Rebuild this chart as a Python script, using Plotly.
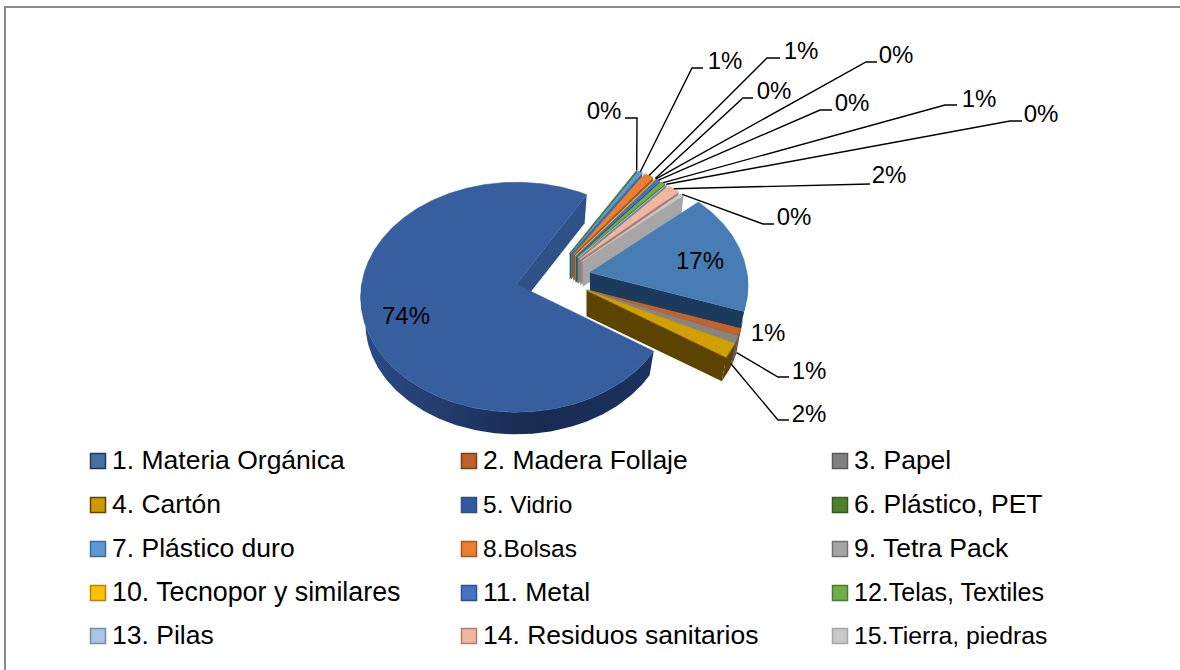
import numpy as np
import plotly.graph_objects as go

categories = ["1. Materia Orgánica", "2. Madera Follaje", "3. Papel", "4. Cartón", "5. Vidrio",
              "6. Plástico, PET", "7. Plástico duro", "8.Bolsas", "9. Tetra Pack",
              "10. Tecnopor y similares", "11. Metal", "12.Telas, Textiles", "13. Pilas",
              "14. Residuos sanitarios", "15.Tierra, piedras"]
values = [17.0, 1.0, 1.0, 2.0, 74.0, 0.15, 0.55, 1.15, 0.1, 0.05, 0.45, 0.55, 0.1, 1.5, 0.4]
top_colors = ["#477DB4", "#C4622B", "#858585", "#D29F00", "#375F9F", "#4E8030", "#5B9BD5", "#ED7D31",
              "#A5A5A5", "#FFC000", "#4472C4", "#70AD47", "#A9C4E4", "#F4B5A0", "#C9C9C9"]
swatch_colors = ["#47709E", "#C0612A", "#808080", "#CC9900", "#305A9A", "#4E8030", "#5B9BD5", "#ED7D31",
                 "#A5A5A5", "#FFC000", "#4472C4", "#70AD47", "#A9C4E4", "#F4B5A0", "#C9C9C9"]
wall_colors = ["#1B3A5C", "#7A3D18", "#5A5A5A", "#5C4300", "#2E5288", "#35591F", "#3D6D97", "#A65720",
               "#707070", "#B38600", "#2F5089", "#4E7A31", "#7689A0", "#AB7F70", "#A6A6A6"]
explode_group = [0, 1, 1, 1, 2, 3, 3, 3, 3, 3, 3, 3, 3, 3, 3]

# Stage geometry of the perspective pie
CX, CY, RX, RY, PERSP, DEPTH, BOTTOM, EXPLODE = 553, 278, 157, 113.5, 0.113, 26, 0.97, 0.24
FIRST_ANGLE = 48
group_fan = {0: 0.0, 1: 0.12, 2: 0.0, 3: 1.5}
group_rx = {0: 1.0, 1: 1.0, 2: 0.985, 3: 0.93}
group_ry = {0: 1.0, 1: 1.0, 2: 1.0, 3: 0.93}

# Leader and label layout, indexed by slice: (elbow x, elbow y, stub end x)
leaders = {3: (778, 420, 789), 2: (778, 377, 789), 5: (637, 118, 625), 6: (692, 68, 703),
           7: (767, 58, 780), 8: (743, 98, 753), 9: (866, 62, 877), 10: (820, 110, 832),
           11: (945, 105, 957), 12: (1010, 121, 1022), 13: (860, 184, 870), 14: (763, 224, 774)}
label_pos = {0: (699, 262), 4: (405, 317), 1: (767, 334), 2: (808, 372), 3: (808, 415),
             5: (603, 112), 6: (724, 62), 7: (800, 52), 8: (773, 92), 9: (895, 56),
             10: (851, 104), 11: (978, 100), 12: (1040, 115), 13: (888, 176), 14: (793, 218)}

total = sum(values)
cum = np.cumsum([0] + values) / total * 360 + FIRST_ANGLE
starts, ends = cum[:-1], cum[1:]
mids = (starts + ends) / 2
group_mid = {}
for g in set(explode_group):
    idx = [i for i, e in enumerate(explode_group) if e == g]
    group_mid[g] = (starts[idx[0]] + ends[idx[-1]]) / 2


def project(theta, g):
    t = np.radians(theta)
    u, v = np.sin(t), np.cos(t)
    d = 1 + PERSP * v
    return RX * group_rx[g] * u / d, -RY * group_ry[g] * v / d


def apex(i):
    g = explode_group[i]
    a_g = np.radians(group_mid[g])
    a_s = np.radians(mids[i])
    fan = group_fan[g]
    u = np.sin(a_g) + fan * (np.sin(a_s) - np.sin(a_g))
    v = np.cos(a_g) + fan * (np.cos(a_s) - np.cos(a_g))
    return CX + RX * EXPLODE * u, CY - RY * EXPLODE * v


fig = go.Figure()


def poly(xs, ys, fill, line=None, lw=0.0, gradient=None):
    kw = dict(x=list(xs), y=list(ys), mode="lines", fill="toself", showlegend=False, hoverinfo="skip",
              line=dict(color=line or fill, width=lw))
    if gradient:
        kw["fillgradient"] = gradient
    else:
        kw["fillcolor"] = fill
    fig.add_trace(go.Scatter(**kw))


def draw_slice(i):
    g = explode_group[i]
    ax, ay = apex(i)
    th = np.linspace(starts[i], ends[i], max(3, int((ends[i] - starts[i]) * 1.5)))
    ox, oy = project(th, g)
    px, py = ox + ax, oy + ay
    bx, by = ax + ox * BOTTOM, ay + oy * BOTTOM + DEPTH
    # far radial wall at the end edge
    poly([ax, px[-1], bx[-1], ax], [ay, py[-1], by[-1], ay + DEPTH], wall_colors[i])
    # outer wall, only where it faces the viewer
    front = np.cos(np.radians(th)) < 0.02
    if front.any():
        grad = None
        if i == 4:
            grad = dict(type="horizontal",
                        colorscale=[[0, "#2B4C85"], [0.25, "#223E70"], [0.6, "#172A50"], [1, "#1C3360"]])
        poly(np.r_[px[front], bx[front][::-1]], np.r_[py[front], by[front][::-1]],
             wall_colors[i] if i != 4 else "#1C3360", gradient=grad)
    # top face
    poly(np.r_[ax, px, ax], np.r_[ay, py, ay], top_colors[i], line=top_colors[i], lw=0.6)


for i in [4] + list(range(5, 15)) + [0, 1, 2, 3]:
    draw_slice(i)

# Leader lines
lx, ly = [], []
for i, (ex, ey, sx) in leaders.items():
    ox, oy = project(mids[i], explode_group[i])
    ax, ay = apex(i)
    lx += [ax + ox, ex, sx, None]
    ly += [ay + oy + (DEPTH * 0.5 if i in (2, 3) else 0), ey, ey, None]
fig.add_trace(go.Scatter(x=lx, y=ly, mode="lines", line=dict(color="#000000", width=1.4),
                         showlegend=False, hoverinfo="skip"))

# Percentage labels
fig.add_trace(go.Scatter(x=[label_pos[i][0] + 1 for i in range(15)], y=[label_pos[i][1] + 1 for i in range(15)],
                         mode="text", text=[f"{int(v + 0.5)}%" for v in values], textposition="middle center",
                         textfont=dict(family="Liberation Sans", size=24, color="#000000"),
                         showlegend=False, hoverinfo="skip"))

# Legend: three columns, five rows
col_x = [98, 469, 840]
row_y = [461, 505, 549, 593, 636]
text_sizes = [26.5, 26.5, 26.5, 26.5, 24.5, 26.5, 26.5, 24.5, 26.5, 26.8, 26.5, 25, 26.5, 26.5, 24.8]
sx = [col_x[k % 3] for k in range(15)]
sy = [row_y[k // 3] for k in range(15)]
fig.add_trace(go.Scatter(x=sx, y=sy, mode="markers", hoverinfo="skip", showlegend=False,
                         marker=dict(symbol="square", size=15, color=swatch_colors,
                                     line=dict(color=wall_colors, width=1.5))))
fig.add_trace(go.Scatter(x=[v + 14 for v in sx], y=[v + 1.5 for v in sy], mode="text", text=categories,
                         textposition="middle right", hoverinfo="skip", showlegend=False,
                         textfont=dict(family="Liberation Sans", size=text_sizes, color="#000000")))

fig.update_layout(
    width=1180, height=670, autosize=False, margin=dict(l=0, r=0, t=0, b=0),
    paper_bgcolor="#FFFFFF", plot_bgcolor="#FFFFFF", showlegend=False,
    xaxis=dict(range=[0, 1180], visible=False, fixedrange=True),
    yaxis=dict(range=[670, 0], visible=False, fixedrange=True),
    shapes=[dict(type="rect", xref="x", yref="y", x0=5, y0=7, x1=1200, y1=700,
                 line=dict(color="#8A8A8A", width=2), layer="below")],
)
fig.write_html("out.html", config={"displayModeBar": False},
               post_script="document.documentElement.style.overflow='hidden';document.body.style.margin='0';")
